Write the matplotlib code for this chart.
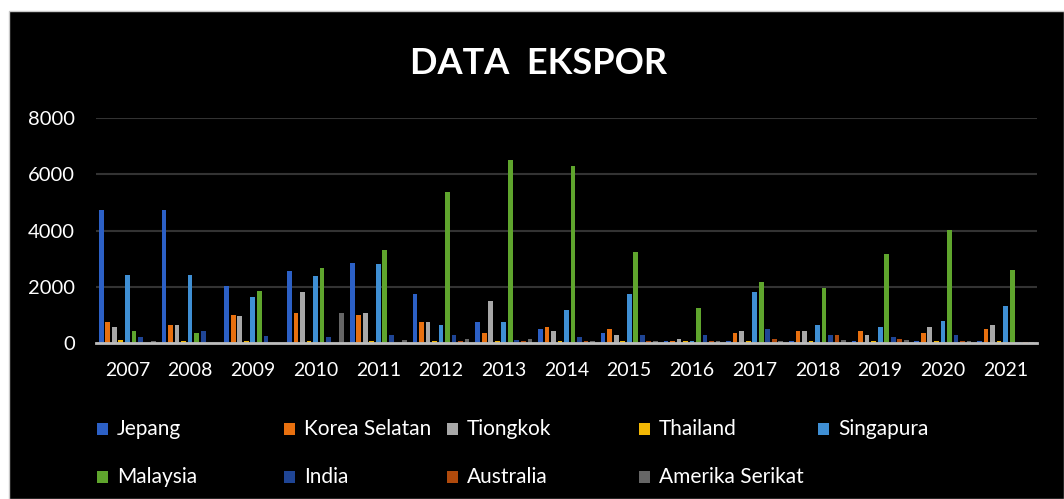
"""
Grafik batang DATA EKSPOR 2007-2021 (latar hitam, gaya Excel).
"""

import matplotlib.pyplot as plt
import numpy as np
from matplotlib.patches import Rectangle

years = ["2007", "2008", "2009", "2010", "2011", "2012", "2013", "2014",
         "2015", "2016", "2017", "2018", "2019", "2020", "2021"]

jepang = [4720, 4720, 2010, 2570, 2860, 1730, 730, 510, 370, 70, 70, 70, 60, 60, 60]
korea_selatan = [730, 650, 1010, 1080, 1010, 730, 370, 580, 510, 70, 370, 440, 440, 370, 510]
tiongkok = [580, 650, 950, 1800, 1080, 730, 1510, 440, 300, 140, 440, 440, 300, 580, 650]
thailand = [110, 80, 70, 70, 80, 80, 80, 80, 80, 70, 80, 80, 70, 70, 70]
singapura = [2430, 2430, 1650, 2370, 2800, 650, 730, 1160, 1730, 70, 1800, 650, 580, 800, 1300]
malaysia = [420, 360, 1860, 2650, 3300, 5370, 6510, 6300, 3230, 1230, 2160, 1940, 3150, 4010, 2580]
india = [210, 430, 260, 200, 290, 290, 110, 200, 300, 290, 510, 300, 200, 290, 50]
australia = [0, 0, 0, 0, 0, 70, 70, 70, 70, 70, 140, 290, 140, 70, 50]
amerika_serikat = [60, 0, 0, 1080, 120, 140, 140, 60, 60, 70, 70, 120, 120, 70, 50]

series_names = ["Jepang", "Korea Selatan", "Tiongkok", "Thailand", "Singapura",
                "Malaysia", "India", "Australia", "Amerika Serikat"]
series_values = [jepang, korea_selatan, tiongkok, thailand, singapura,
                 malaysia, india, australia, amerika_serikat]
colors = ["#2c60c6", "#e8700f", "#a8a8a8", "#f2b705", "#3f8fd4",
          "#5fa52d", "#1f4595", "#b04a0c", "#666666"]

FONT = ["Lato", "DejaVu Sans"]
plt.rcParams["font.family"] = FONT

fig = plt.figure(figsize=(10.64, 4.99), dpi=100, facecolor="white")

# black chart area (behind the axes)
fig.patches.append(Rectangle((9 / 1064, 0), 1 - 9 / 1064, 1 - 11 / 499,
                             transform=fig.transFigure, facecolor="black",
                             edgecolor="#c8c8c8", linewidth=1, zorder=-10))

ax = fig.add_axes([96 / 1064, 1 - 343 / 499, (1037 - 96) / 1064, (343 - 118) / 499])
ax.set_facecolor("black")

x = np.arange(len(years))
slot = 0.104
bar_w = 0.075
for i, (name, vals, c) in enumerate(zip(series_names, series_values, colors)):
    ax.bar(x + (i - 4) * slot, vals, width=bar_w, color=c, label=name, zorder=3)

ax.set_xlim(-0.5, len(years) - 0.5)
ax.set_ylim(0, 8000)
ax.set_yticks([0, 2000, 4000, 6000, 8000])
ax.set_xticks(x)
ax.set_xticklabels(years)
ax.tick_params(axis="both", length=0, colors="white", labelsize=14)
ax.tick_params(axis="x", pad=14)
ax.tick_params(axis="y", pad=15, labelsize=14.5)
ax.grid(axis="y", color="#333333", linewidth=1.5, zorder=0)
for side in ["top", "right", "left"]:
    ax.spines[side].set_visible(False)
ax.spines["bottom"].set_color("#bdbdbd")
ax.spines["bottom"].set_linewidth(2)
ax.spines["bottom"].set_zorder(4)

fig.text(539 / 1064, 1 - 64 / 499, "DATA  EKSPOR", color="white", fontsize=26,
         fontweight="bold", ha="center", va="center")

# legend laid out like Excel: two rows, five columns
col_x = [97, 284, 447, 639, 818]
row_y = [429, 477]
for k, (name, c) in enumerate(zip(series_names, colors)):
    r, cidx = divmod(k, 5)
    mx, my = col_x[cidx], row_y[r]
    fig.patches.append(Rectangle((mx / 1064, 1 - (my + 6) / 499), 11 / 1064, 12 / 499,
                                 transform=fig.transFigure, facecolor=c,
                                 edgecolor="none", zorder=2))
    fig.text((mx + 20) / 1064, 1 - (my + 6) / 499, name, color="white", fontsize=15,
             ha="left", va="baseline")

fig.savefig("out.png", dpi=100, facecolor="white")
